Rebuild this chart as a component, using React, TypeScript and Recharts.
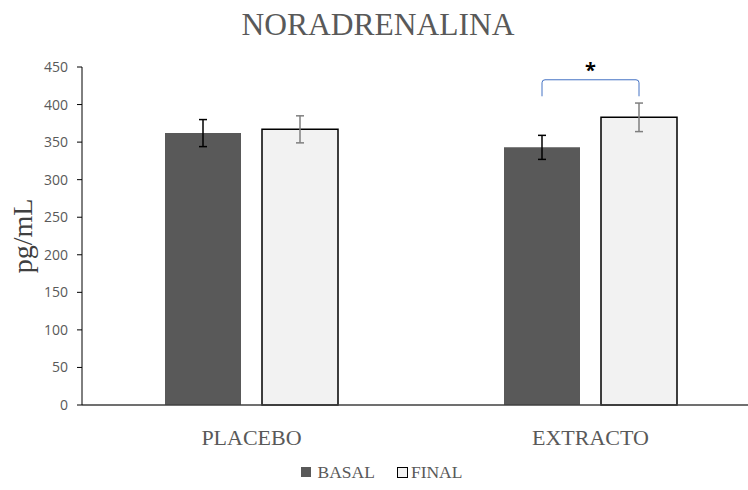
import { BarChart, Bar, XAxis, YAxis, ErrorBar, LabelList } from "recharts";

const categories = ["PLACEBO", "EXTRACTO"];
const basal = [362, 343];
const basalErr = [18, 16];
const final = [367, 383];
const finalErr = [18, 19];
const yTicks = [0, 50, 100, 150, 200, 250, 300, 350, 400, 450];

// significance bracket over EXTRACTO (data units)
const bracketTop = 433;
const bracketEnd = 411;
const starY = 447;

const data = categories.map((name, i) => ({
  name,
  basal: basal[i],
  basalErr: basalErr[i],
  final: final[i],
  finalErr: finalErr[i],
}));

const SERIF = "'Liberation Serif', 'DejaVu Serif', serif";
const SANS = "'Open Sans', 'Liberation Sans', sans-serif";
const GAP = 21;

const Bracket = (props: any) => {
  const { x, y, width, height, value, index } = props;
  if (index !== 1) return null;
  const base = y + height;
  const k = height / value;
  const x1 = x + width / 2;
  const x2 = x + width + GAP + width / 2;
  const yt = base - bracketTop * k;
  const ye = base - bracketEnd * k;
  return (
    <g>
      <path
        d={`M${x1},${ye} L${x1},${yt + 3} Q${x1},${yt} ${x1 + 3},${yt} L${x2 - 3},${yt} Q${x2},${yt} ${x2},${yt + 3} L${x2},${ye}`}
        fill="none"
        stroke="#4472c4"
        strokeWidth={1}
      />
      <text
        x={(x1 + x2) / 2}
        y={base - starY * k}
        textAnchor="middle"
        dominantBaseline="central"
        fontSize={20}
        fontWeight={700}
        fontFamily={SANS}
        fill="#000"
      >
        *
      </text>
    </g>
  );
};

const YLabel = (props: any) => {
  const { viewBox } = props;
  const cx = 22;
  const cy = viewBox.y + viewBox.height / 2;
  return (
    <text
      x={cx}
      y={cy}
      transform={`rotate(-90, ${cx}, ${cy})`}
      textAnchor="middle"
      dominantBaseline="central"
      fontSize={28}
      fontFamily={SERIF}
      fill="#404040"
    >
      pg/mL
    </text>
  );
};

export default function App() {
  return (
    <div
      style={{
        position: "absolute",
        left: 0,
        top: 0,
        width: 748,
        height: 490,
        overflow: "hidden",
        background: "#fff",
      }}
    >
      <div
        style={{
          position: "absolute",
          left: 0,
          width: 756,
          top: 6,
          textAlign: "center",
          fontFamily: SERIF,
          fontSize: 31.5,
          color: "#595959",
          lineHeight: "38px",
        }}
      >
        NORADRENALINA
      </div>
      <div style={{ position: "absolute", left: 0, top: 0 }}>
        <BarChart
          width={770}
          height={490}
          data={data}
          margin={{ top: 67, right: 10, bottom: 35, left: 0 }}
          barGap={GAP}
          barCategoryGap={83}
        >
          <XAxis
            dataKey="name"
            height={50}
            tickLine={false}
            axisLine={{ stroke: "#404040", strokeWidth: 1.5 }}
            tickMargin={18}
            tick={{ fontSize: 22, fontFamily: SERIF, fill: "#595959" }}
          />
          <YAxis
            width={82}
            domain={[0, 450]}
            ticks={yTicks}
            interval={0}
            tickSize={5}
            tickMargin={9}
            axisLine={{ stroke: "#000" }}
            tickLine={{ stroke: "#000" }}
            tick={{ fontSize: 14, fontFamily: SANS, fill: "#595959" }}
            label={<YLabel />}
          />
          <Bar dataKey="basal" fill="#595959" isAnimationActive={false}>
            <ErrorBar dataKey="basalErr" width={4} stroke="#000" strokeWidth={1.5} />
            <LabelList dataKey="basal" content={<Bracket />} />
          </Bar>
          <Bar
            dataKey="final"
            fill="#f2f2f2"
            stroke="#000"
            strokeWidth={1.5}
            isAnimationActive={false}
          >
            <ErrorBar dataKey="finalErr" width={4} stroke="#7f7f7f" strokeWidth={1.5} />
          </Bar>
        </BarChart>
      </div>
      <div
        style={{
          position: "absolute",
          top: 460,
          left: 0,
          width: 763,
          display: "flex",
          justifyContent: "center",
          fontFamily: SERIF,
          fontSize: 17.5,
          color: "#595959",
          lineHeight: "24px",
        }}
      >
        <span style={{ display: "flex", alignItems: "center", marginRight: 22 }}>
          <span style={{ width: 10, height: 10, background: "#595959", marginRight: 7 }} />
          BASAL
        </span>
        <span style={{ display: "flex", alignItems: "center" }}>
          <span
            style={{
              width: 9,
              height: 9,
              background: "#f2f2f2",
              border: "1px solid #000",
              marginRight: 3,
            }}
          />
          FINAL
        </span>
      </div>
    </div>
  );
}
